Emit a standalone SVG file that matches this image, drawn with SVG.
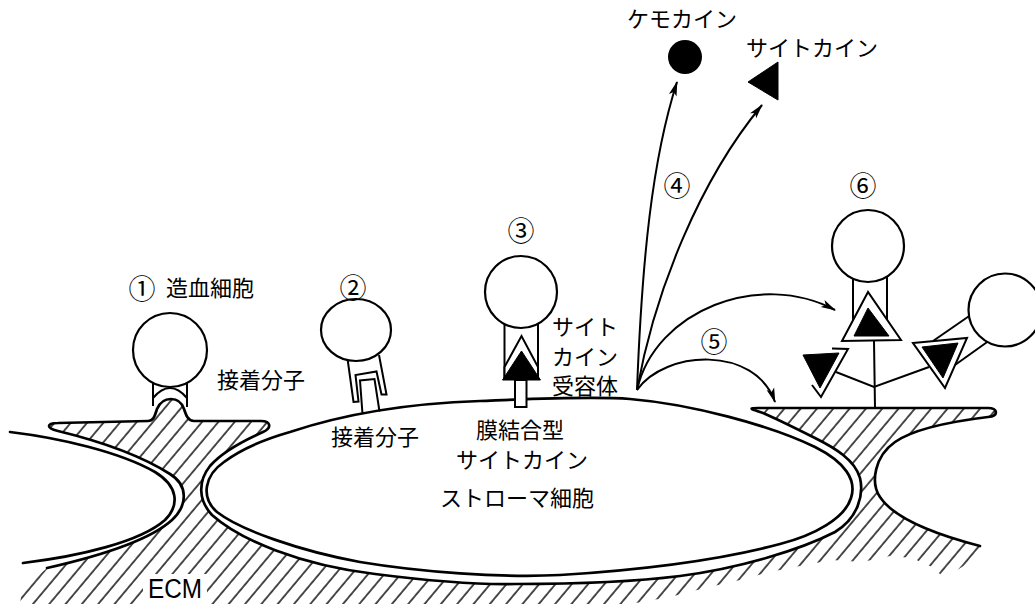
<svg xmlns="http://www.w3.org/2000/svg" width="1035" height="605" viewBox="0 0 1035 605">
  <style>
    .lbl { font-family: "Noto Sans CJK JP", "Noto Sans CJK SC", sans-serif; font-size: 22px; fill: #000; }
    .num { font-family: "Noto Sans CJK JP", "DejaVu Sans", sans-serif; font-size: 27px; fill: #000; text-anchor: middle; }
    .ecm { font-family: "Liberation Sans", Arial, sans-serif; font-size: 27px; fill: #000; }
    .edge { fill: none; stroke: #000; stroke-width: 2.7; stroke-linejoin: round; stroke-linecap: round; }
    .cell { fill: #fff; stroke: #000; stroke-width: 2.2; }
    .part { fill: none; stroke: #000; stroke-width: 2; stroke-linejoin: miter; }
    .wpart { fill: #fff; stroke: #000; stroke-width: 2; stroke-linejoin: miter; }
    .blk { fill: #000; stroke: #000; stroke-width: 1; }
    .arr { fill: none; stroke: #000; stroke-width: 2; marker-end: url(#head); }
  </style>
  <defs>
    <pattern id="hatch" width="12.5" height="10" patternUnits="userSpaceOnUse" patternTransform="rotate(40)">
      <line x1="1" y1="0" x2="1" y2="10" stroke="#000" stroke-width="1.4"/>
    </pattern>
    <marker id="head" markerUnits="userSpaceOnUse" markerWidth="16" markerHeight="10" refX="14" refY="5" orient="auto">
      <path d="M0,1 L15,5 L0,9 L3.5,5 Z" fill="#000"/>
    </marker>
  </defs>

  <rect width="1035" height="605" fill="#fff"/>

  <!-- extracellular matrix: hatched area and its boundary -->
  <g id="ecm">
    <path fill="url(#hatch)" stroke="none" d="M 47,568 C 100,556 150,540 172,520 C 188,505 188,485 170,474 C 140,455 95,440 58,431 C 46,428 46,423 58,423 L 148,421 C 154,421 155,415 157,409 C 160,402 165,399 171,399 C 178,399 182,403 184,409 C 186,415 188,421 194,421 L 261,421 C 271,421 272,428 263,432 C 245,440 222,452 210,466 C 198,481 198,500 212,515 C 240,540 300,565 375,574 C 430,581 480,585 516,584 C 580,584 640,581 680,576 C 740,568 800,550 835,532 C 858,518 864,495 860,478 C 855,460 835,448 815,438 C 795,428 775,418 763,413 C 750,409 748,408 758,408 L 988,408 C 998,408 999,416 988,417 C 955,421 915,428 895,442 C 875,456 870,482 880,497 C 893,517 930,533 980,546 L 985,552 L 945,578 L 930,566 L 912,558 L 890,556 L 862,562 L 832,560 L 800,566 L 770,572 L 740,580 L 705,588 L 670,597 L 630,604 L 20,604 L 22,590 Z"/>
    <path class="edge" d="M 47,568 C 100,556 150,540 172,520 C 188,505 188,485 170,474 C 140,455 95,440 58,431 C 46,428 46,423 58,423 L 148,421 C 154,421 155,415 157,409 C 160,402 165,399 171,399 C 178,399 182,403 184,409 C 186,415 188,421 194,421 L 261,421 C 271,421 272,428 263,432 C 245,440 222,452 210,466 C 198,481 198,500 212,515 C 240,540 300,565 375,574 C 430,581 480,585 516,584 C 580,584 640,581 680,576 C 740,568 800,550 835,532 C 858,518 864,495 860,478 C 855,460 835,448 815,438 C 795,428 775,418 763,413 C 750,409 748,408 758,408 L 988,408 C 998,408 999,416 988,417 C 955,421 915,428 895,442 C 875,456 870,482 880,497 C 893,517 930,533 980,546"/>
    <rect x="143" y="574" width="64" height="31" fill="#fff"/>
    <text class="ecm" x="148" y="598" textLength="54" lengthAdjust="spacingAndGlyphs">ECM</text>
  </g>

  <!-- neighbouring cell at the left edge -->
  <g id="left-cell">
    <path class="edge" d="M 10,432 C 60,438 120,452 155,472 C 178,486 180,505 165,520 C 140,542 80,556 23,563"/>
  </g>

  <!-- stromal cell -->
  <g id="stroma">
    <path class="edge" d="M 290,432 C 350,412 420,403 480,401 C 530,399 590,396 630,399 C 690,404 770,425 815,447 C 845,462 857,480 851,498 C 845,518 815,535 780,544 C 720,560 640,570 560,575 C 500,578 420,572 360,562 C 300,551 240,530 217,512 C 200,497 205,475 224,462 C 240,450 262,440 290,432 Z"/>
    <text class="lbl" x="440" y="506" font-size="23">ストローマ細胞</text>
  </g>

  <!-- 1: hematopoietic cell docked on the ECM -->
  <g id="cell1">
    <line class="part" x1="153" y1="378" x2="153" y2="406"/>
    <line class="part" x1="187" y1="378" x2="187" y2="407"/>
    <path class="part" d="M 153,398 Q 170,378 187,398"/>
    <circle class="cell" cx="170" cy="350" r="37"/>
    <text class="num" x="142" y="299">①</text>
    <text class="lbl" x="166" y="296" font-size="23">造血細胞</text>
    <text class="lbl" x="217" y="388" font-size="23">接着分子</text>
  </g>

  <!-- 2: cell bound through an adhesion molecule -->
  <g id="cell2">
    <polyline class="part" points="347,355 353.5,402 358.5,401.5 355.5,375 376.5,371.5 381.5,394.5 386.5,394.5 379,355"/>
    <polyline class="part" points="362.5,414 360,380.5 374.5,379 379.5,411.5"/>
    <ellipse class="cell" cx="356" cy="330" rx="35" ry="31"/>
    <text class="num" x="353" y="298">②</text>
    <text class="lbl" x="331" y="445" font-size="23">接着分子</text>
  </g>

  <!-- 3: membrane-bound cytokine and its receptor -->
  <g id="cell3">
    <line class="part" x1="504.5" y1="315" x2="504.5" y2="379"/>
    <line class="part" x1="538" y1="315" x2="538" y2="379"/>
    <polygon class="wpart" points="504.5,367 521.5,336 538,367 538,379 504.5,379"/>
    <polygon class="blk" points="502.5,380 521.5,351 540.5,380"/>
    <rect class="wpart" x="515" y="380" width="11.5" height="27"/>
    <circle class="cell" cx="521" cy="292" r="36"/>
    <text class="num" x="521" y="241">③</text>
    <text class="lbl" font-size="20.5"><tspan x="552" y="335">サイト</tspan><tspan x="552" y="364.7">カイン</tspan><tspan x="552" y="394.4">受容体</tspan></text>
    <text class="lbl"><tspan x="476" y="438">膜結合型</tspan><tspan x="456" y="468">サイトカイン</tspan></text>
  </g>

  <!-- secreted factors -->
  <g id="chemokine">
    <circle cx="685" cy="57" r="17" fill="#000"/>
    <text class="lbl" x="627" y="27">ケモカイン</text>
  </g>
  <g id="cytokine">
    <polygon class="blk" points="748,82 778,62 778,100"/>
    <text class="lbl" x="746" y="56" font-size="23">サイトカイン</text>
  </g>

  <!-- 6: cytokine presented on the ECM -->
  <g id="ecm-cytokine">
    <line class="part" x1="874" y1="341" x2="875" y2="408"/>
    <polyline class="part" points="836,372 874,387 929,367"/>
    <polygon class="blk" points="803,355 839,353 820,388"/>
    <polyline class="part" points="832,348.5 848,349 821,397 812,385"/>
    <polygon class="wpart" points="913,343 967,338 945,388"/>
    <polygon class="blk" points="922,347 958,343 943,378"/>
  </g>
  <g id="cell6">
    <line class="part" x1="853" y1="275" x2="853" y2="322"/>
    <line class="part" x1="887" y1="275" x2="887" y2="321"/>
    <polygon class="wpart" points="868,292 842,341 901,340"/>
    <polygon class="blk" points="868,308 854,336 889,336"/>
    <circle class="cell" cx="868" cy="246" r="36"/>
    <text class="num" x="863" y="196">⑥</text>
  </g>
  <g id="cell6b">
    <line class="part" x1="975" y1="312" x2="933" y2="341"/>
    <line class="part" x1="990" y1="340" x2="955" y2="365"/>
    <circle class="cell" cx="1005" cy="310" r="36.5"/>
  </g>

  <!-- 4 / 5: secretion paths -->
  <g id="connectors">
    <path class="arr" d="M 637,390 C 642,260 652,160 677,82"/>
    <path class="arr" d="M 637,390 C 655,290 700,180 762,105"/>
    <path class="arr" d="M 637,390 C 655,310 760,270 835,310"/>
    <path class="arr" d="M 637,390 C 665,350 755,345 775,402"/>
    <text class="num" x="677" y="196">④</text>
    <text class="num" x="714" y="352">⑤</text>
  </g>
</svg>
